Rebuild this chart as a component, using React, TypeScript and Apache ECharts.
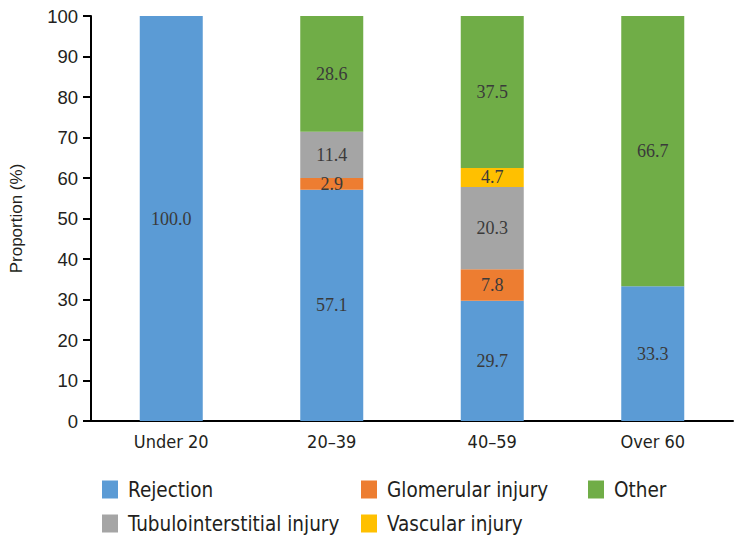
import React, { useEffect, useRef } from "react";
import * as echarts from "echarts";

const categories = ["Under 20", "20–39", "40–59", "Over 60"];
const rejection = [100.0, 57.1, 29.7, 33.3];
const glomerular = [0, 2.9, 7.8, 0];
const tubulointerstitial = [0, 11.4, 20.3, 0];
const vascular = [0, 0, 4.7, 0];
const other = [0, 28.6, 37.5, 66.7];
const yTicks = { min: 0, max: 100, interval: 10 };

const NARROW = "'DejaVu Sans Condensed', 'Liberation Sans Narrow', sans-serif";
const SANS = "'Liberation Sans', Arial, sans-serif";
const SERIF = "'Liberation Serif', 'Times New Roman', serif";

export default function App() {
  const ref = useRef<HTMLDivElement>(null);
  useEffect(() => {
    if (!ref.current) return;
    const chart = echarts.init(ref.current, undefined, { renderer: "svg" });
    const mk = (name: string, data: number[], color: string) => ({
      name,
      type: "bar",
      stack: "total",
      data,
      barWidth: 63,
      itemStyle: { color },
      label: {
        show: true,
        position: "inside",
        color: "#3a3a3a",
        fontFamily: SERIF,
        fontSize: 18,
        formatter: (p: any) => (p.value ? Number(p.value).toFixed(1) : ""),
      },
    });
    const legendItem = (name: string, left: number, top: number) => ({
      data: [name],
      left,
      top,
      padding: 0,
      itemWidth: 16,
      itemHeight: 18,
      icon: "rect",
      selectedMode: false,
      textStyle: {
        fontFamily: NARROW,
        fontSize: 20.5,
        color: "#231f20",
        lineHeight: 18,
        padding: [0, 0, 0, 5],
      },
    });
    chart.setOption({
      animation: false,
      grid: { left: 91, right: 7, top: 16, bottom: 123, containLabel: false },
      legend: [
        legendItem("Rejection", 102, 479),
        legendItem("Glomerular injury", 361, 479),
        legendItem("Other", 588, 479),
        legendItem("Tubulointerstitial injury", 102, 513),
        legendItem("Vascular injury", 361, 513),
      ],
      xAxis: {
        type: "category",
        data: categories,
        axisLine: { lineStyle: { color: "#000", width: 2 } },
        axisTick: { show: false },
        axisLabel: { color: "#231f20", fontFamily: NARROW, fontSize: 18, margin: 11 },
      },
      yAxis: {
        type: "value",
        min: yTicks.min,
        max: yTicks.max,
        interval: yTicks.interval,
        name: "Proportion (%)",
        nameLocation: "middle",
        nameGap: 66,
        nameTextStyle: { color: "#231f20", fontFamily: SANS, fontSize: 17 },
        axisLine: { show: true, lineStyle: { color: "#000", width: 2 } },
        axisTick: { show: true, length: 8, lineStyle: { color: "#000", width: 2 } },
        axisLabel: { color: "#231f20", fontFamily: SANS, fontSize: 18.5, margin: 13 },
        splitLine: { show: false },
      },
      series: [
        mk("Rejection", rejection, "#5B9BD5"),
        mk("Glomerular injury", glomerular, "#ED7D31"),
        mk("Tubulointerstitial injury", tubulointerstitial, "#A5A5A5"),
        mk("Vascular injury", vascular, "#FFC000"),
        mk("Other", other, "#70AD47"),
      ],
    });
    return () => chart.dispose();
  }, []);
  return <div ref={ref} style={{ width: 740, height: 544, position: "absolute", left: 0, top: 0 }} />;
}
